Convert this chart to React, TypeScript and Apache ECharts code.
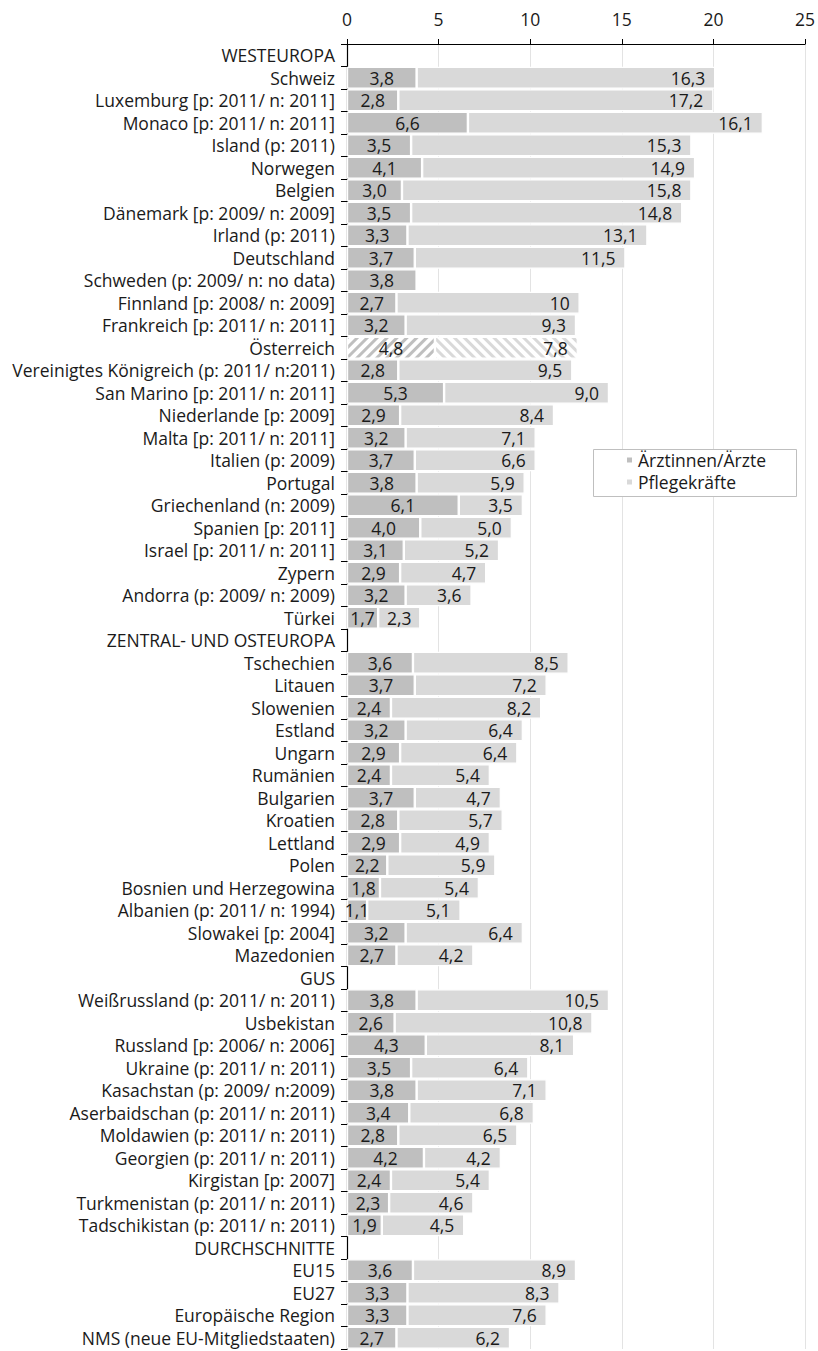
import React, { useEffect, useRef } from "react";
import * as echarts from "echarts";

const categories: string[] = [
  "WESTEUROPA",
  "Schweiz",
  "Luxemburg [p: 2011/ n: 2011]",
  "Monaco [p: 2011/ n: 2011]",
  "Island (p: 2011)",
  "Norwegen",
  "Belgien",
  "Dänemark [p: 2009/ n: 2009]",
  "Irland (p: 2011)",
  "Deutschland",
  "Schweden (p: 2009/ n: no data)",
  "Finnland [p: 2008/ n: 2009]",
  "Frankreich [p: 2011/ n: 2011]",
  "Österreich",
  "Vereinigtes Königreich (p: 2011/ n:2011)",
  "San Marino [p: 2011/ n: 2011]",
  "Niederlande [p: 2009]",
  "Malta [p: 2011/ n: 2011]",
  "Italien (p: 2009)",
  "Portugal",
  "Griechenland (n: 2009)",
  "Spanien [p: 2011]",
  "Israel [p: 2011/ n: 2011]",
  "Zypern",
  "Andorra (p: 2009/ n: 2009)",
  "Türkei",
  "ZENTRAL- UND OSTEUROPA",
  "Tschechien",
  "Litauen",
  "Slowenien",
  "Estland",
  "Ungarn",
  "Rumänien",
  "Bulgarien",
  "Kroatien",
  "Lettland",
  "Polen",
  "Bosnien und Herzegowina",
  "Albanien (p: 2011/ n: 1994)",
  "Slowakei [p: 2004]",
  "Mazedonien",
  "GUS",
  "Weißrussland (p: 2011/ n: 2011)",
  "Usbekistan",
  "Russland [p: 2006/ n: 2006]",
  "Ukraine (p: 2011/ n: 2011)",
  "Kasachstan (p: 2009/ n:2009)",
  "Aserbaidschan (p: 2011/ n: 2011)",
  "Moldawien (p: 2011/ n: 2011)",
  "Georgien (p: 2011/ n: 2011)",
  "Kirgistan [p: 2007]",
  "Turkmenistan (p: 2011/ n: 2011)",
  "Tadschikistan (p: 2011/ n: 2011)",
  "DURCHSCHNITTE",
  "EU15",
  "EU27",
  "Europäische Region",
  "NMS (neue EU-Mitgliedstaaten)",
];

const aerzte: (number | null)[] = [
  null, 3.8, 2.8, 6.6, 3.5, 4.1, 3.0, 3.5, 3.3, 3.7, 3.8, 2.7, 3.2, 4.8, 2.8, 5.3, 2.9, 3.2, 3.7, 3.8, 6.1, 4.0, 3.1, 2.9, 3.2, 1.7,
  null, 3.6, 3.7, 2.4, 3.2, 2.9, 2.4, 3.7, 2.8, 2.9, 2.2, 1.8, 1.1, 3.2, 2.7,
  null, 3.8, 2.6, 4.3, 3.5, 3.8, 3.4, 2.8, 4.2, 2.4, 2.3, 1.9,
  null, 3.6, 3.3, 3.3, 2.7,
];

const pflege: (number | null)[] = [
  null, 16.3, 17.2, 16.1, 15.3, 14.9, 15.8, 14.8, 13.1, 11.5, null, 10, 9.3, 7.8, 9.5, 9.0, 8.4, 7.1, 6.6, 5.9, 3.5, 5.0, 5.2, 4.7, 3.6, 2.3,
  null, 8.5, 7.2, 8.2, 6.4, 6.4, 5.4, 4.7, 5.7, 4.9, 5.9, 5.4, 5.1, 6.4, 4.2,
  null, 10.5, 10.8, 8.1, 6.4, 7.1, 6.8, 6.5, 4.2, 5.4, 4.6, 4.5,
  null, 8.9, 8.3, 7.6, 6.2,
];

const xTicks = { min: 0, max: 25, interval: 5 };
const seriesNames = ["Ärztinnen/Ärzte", "Pflegekräfte"];
const hatchedCategory = "Österreich";
const integerLabelCategory = "Finnland [p: 2008/ n: 2009]";

const FONT = "Open Sans";
const FS = 17.5;
const TEXT = "#1a1a1a";
const C_DOC = "#bfbfbf";
const C_NUR = "#d9d9d9";

const fmt = (v: number) => v.toFixed(1).replace(".", ",");

export default function App() {
  const ref = useRef<HTMLDivElement>(null);
  useEffect(() => {
    document.body.style.margin = "0";
    if (!ref.current) return;
    const chart = echarts.init(ref.current, undefined, { renderer: "svg" });

    const docData = aerzte.map((v, i) => {
      if (v === null) return null;
      if (categories[i] === hatchedCategory) {
        return {
          value: v,
          itemStyle: {
            color: "#ffffff",
            decal: {
              symbol: "rect",
              symbolSize: 1,
              color: C_DOC,
              dashArrayX: [1, 0],
              dashArrayY: [3, 4],
              rotation: -Math.PI / 4,
            },
          },
        };
      }
      return v;
    });
    const nurData = pflege.map((v, i) => {
      if (v === null) return null;
      if (categories[i] === hatchedCategory) {
        return {
          value: v,
          itemStyle: {
            color: "#ffffff",
            decal: {
              symbol: "rect",
              symbolSize: 1,
              color: C_NUR,
              dashArrayX: [1, 0],
              dashArrayY: [3, 4],
              rotation: Math.PI / 4,
            },
          },
        };
      }
      if (categories[i] === integerLabelCategory) {
        return { value: v, label: { formatter: String(v) } };
      }
      if (v < 2.5) {
        return { value: v, label: { position: "inside" } };
      }
      return v;
    });

    const labelBase = {
      show: true,
      fontFamily: FONT,
      fontSize: FS,
      color: TEXT,
      formatter: (p: any) => fmt(p.value),
    };

    chart.setOption({
      animation: false,
      textStyle: { fontFamily: FONT },
      grid: { left: 347, right: 12, top: 44, bottom: 2, containLabel: false },
      legend: {
        orient: "vertical",
        left: 625,
        top: 451,
        padding: 0,
        z: 5,
        itemWidth: 7,
        itemHeight: 7,
        itemGap: 4,
        icon: "rect",
        textStyle: { fontFamily: FONT, fontSize: FS, color: TEXT, lineHeight: 18 },
        data: seriesNames,
      },
      graphic: [
        {
          type: "rect",
          left: 593,
          top: 449,
          z: 4,
          shape: { width: 203, height: 47 },
          style: { fill: "#ffffff", stroke: "#bfbfbf", lineWidth: 1 },
        },
      ],
      xAxis: {
        type: "value",
        position: "top",
        min: xTicks.min,
        max: xTicks.max,
        interval: xTicks.interval,
        axisLine: { show: true, lineStyle: { color: "#000", width: 1.2 } },
        axisTick: { show: true, length: 5, lineStyle: { color: "#000" } },
        axisLabel: { fontFamily: FONT, fontSize: FS, color: TEXT, margin: 16 },
        splitLine: { show: true, lineStyle: { color: "#e3e3e3", width: 1 } },
      },
      yAxis: {
        type: "category",
        inverse: true,
        data: categories,
        axisLine: { show: true, lineStyle: { color: "#000", width: 1.2 } },
        axisTick: { show: true, length: 6, lineStyle: { color: "#000" } },
        axisLabel: { fontFamily: FONT, fontSize: FS, color: TEXT, margin: 12, interval: 0 },
      },
      series: [
        {
          name: seriesNames[0],
          type: "bar",
          stack: "total",
          barWidth: 22,
          data: docData,
          itemStyle: { color: C_DOC, borderColor: "#ffffff", borderWidth: 1.2 },
          label: { ...labelBase, position: "inside" },
        },
        {
          name: seriesNames[1],
          type: "bar",
          stack: "total",
          barWidth: 22,
          data: nurData,
          itemStyle: { color: C_NUR, borderColor: "#ffffff", borderWidth: 1.2 },
          label: { ...labelBase, position: "insideRight", distance: 10 },
        },
      ],
    });
    return () => chart.dispose();
  }, []);
  return <div ref={ref} style={{ width: 818, height: 1351 }} />;
}
